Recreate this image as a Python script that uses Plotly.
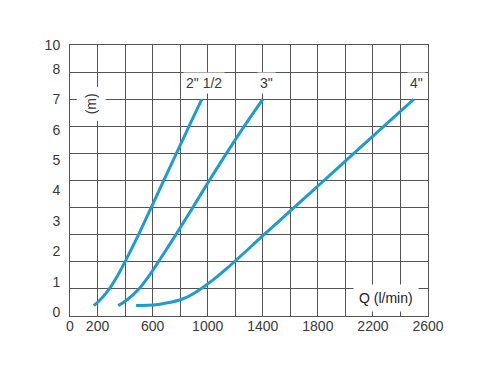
import plotly.graph_objects as go

# ---- data ----
q_25 = [173, 225, 279, 340, 400, 497, 600, 700, 800, 880, 957]
h_25 = [0.21, 0.43, 0.72, 1.15, 1.66, 2.54, 3.54, 4.52, 5.49, 6.27, 7.00]

q_3 = [351, 420, 497, 565, 630, 700, 768, 889, 1005, 1127, 1260, 1400]
h_3 = [0.21, 0.42, 0.74, 1.13, 1.57, 2.06, 2.54, 3.42, 4.28, 5.16, 6.08, 7.00]

q_4 = [480, 560, 642, 720, 807, 880, 957, 1050, 1148, 1405, 1600, 1800, 2000, 2200, 2496]
h_4 = [0.21, 0.22, 0.25, 0.31, 0.41, 0.56, 0.78, 1.10, 1.47, 2.53, 3.33, 4.15, 4.97, 5.79, 7.00]

series_names = ['2" 1/2', '3"', '4"']
label_q = [975, 1425, 2515]
label_h = [7.54, 7.54, 7.54]

x_tick_vals = [0, 200, 600, 1000, 1400, 1800, 2200, 2600]
y_tick_vals = [0, 1, 2, 3, 4, 5, 6, 7, 8, 8.78]
y_tick_text = ["0", "1", "2", "3", "4", "5", "6", "7", "8", "10"]

BLUE = "#1e9bd0"
GRID = "#555555"
TXT = "#3a3a3a"
FONT = "Liberation Sans, Arial, sans-serif"

fig = go.Figure()

# invisible trace to anchor the grid subplot
fig.add_trace(go.Scatter(x=[None], y=[None], xaxis="x", yaxis="y",
                         showlegend=False, hoverinfo="skip"))

for q, h in [(q_25, h_25), (q_3, h_3), (q_4, h_4)]:
    fig.add_trace(go.Scatter(x=q, y=h, xaxis="x2", yaxis="y2", mode="lines",
                             line=dict(color=BLUE, width=3, shape="spline", smoothing=1.0),
                             showlegend=False, hoverinfo="skip"))

annotations = []
for name, xq, yh in zip(series_names, label_q, label_h):
    annotations.append(dict(x=xq, y=yh, xref="x2", yref="y2", text=name, showarrow=False,
                            font=dict(family=FONT, size=14, color=TXT),
                            bgcolor="white", borderpad=2))
annotations.append(dict(x=155, y=6.85, xref="x2", yref="y2", text="(m)", showarrow=False,
                        textangle=-90, font=dict(family=FONT, size=14, color=TXT),
                        bgcolor="white", borderpad=6))
annotations.append(dict(x=2297, y=0.46, xref="x2", yref="y2", text="Q (l/min)", showarrow=False,
                        font=dict(family=FONT, size=14, color="#222222"),
                        bgcolor="white", borderpad=5))

fig.update_layout(
    width=500, height=375,
    margin=dict(l=62, r=80, t=37, b=67),
    paper_bgcolor="white", plot_bgcolor="white",
    showlegend=False,
    font=dict(family=FONT, size=14, color=TXT),
    xaxis=dict(range=[0, 2600], dtick=200, tick0=0, showgrid=True, gridcolor=GRID, gridwidth=1,
               showticklabels=False, zeroline=False, showline=True, linecolor=GRID,
               mirror=True, ticks=""),
    yaxis=dict(range=[0, 10], dtick=1, tick0=0, showgrid=True, gridcolor=GRID, gridwidth=1,
               showticklabels=False, zeroline=False, showline=True, linecolor=GRID,
               mirror=True, ticks=""),
    xaxis2=dict(range=[0, 2600], overlaying="x", anchor="y2", side="bottom",
                tickmode="array", tickvals=x_tick_vals, showgrid=False, zeroline=False,
                showline=False, ticks="", ticklen=0,
                tickfont=dict(family=FONT, size=14, color=TXT)),
    yaxis2=dict(range=[-0.132, 8.794], overlaying="y", anchor="x2", side="left",
                tickmode="array", tickvals=y_tick_vals, ticktext=y_tick_text,
                showgrid=False, zeroline=False, showline=False, ticks="outside",
                ticklen=6, tickcolor="rgba(0,0,0,0)",
                tickfont=dict(family=FONT, size=14, color=TXT)),
    annotations=annotations,
)

fig.write_html("out.html")
